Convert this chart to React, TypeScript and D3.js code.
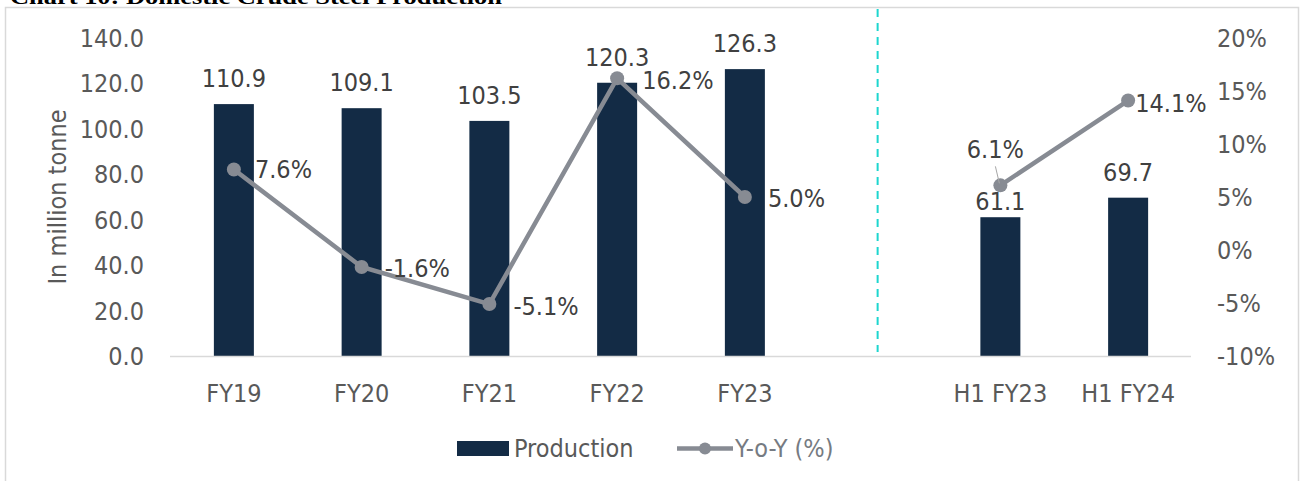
import { useEffect, useRef } from "react"
import * as d3 from "d3"

// chart data
const categories = ["FY19", "FY20", "FY21", "FY22", "FY23", "", "H1 FY23", "H1 FY24"]
const production = [110.9, 109.1, 103.5, 120.3, 126.3, null, 61.1, 69.7]
const yoy = [7.6, -1.6, -5.1, 16.2, 5.0, null, 6.1, 14.1]
const leftTicks = [0, 20, 40, 60, 80, 100, 120, 140]
const rightTicks = [-10, -5, 0, 5, 10, 15, 20]
const legendLabels = ["Production", "Y-o-Y (%)"]
const title = "Chart 10: Domestic Crude Steel Production"

// label placement (layout only)
const barLabelGap = [17, 17, 17, 17, 17, 0, 7, 17]
const yoyLabelPos = [
  { dx: 21, dy: 9, anchor: "start" },
  { dx: 23, dy: 10, anchor: "start" },
  { dx: 24, dy: 11, anchor: "start" },
  { dx: 25, dy: 11, anchor: "start" },
  { dx: 23, dy: 10, anchor: "start" },
  { dx: 0, dy: 0, anchor: "start" },
  { dx: -5, dy: -27, anchor: "middle" },
  { dx: 7, dy: 11, anchor: "start" },
]

const FONT = "'DejaVu Sans Condensed', 'DejaVu Sans', sans-serif"

export default function App() {
  const svgRef = useRef(null)

  useEffect(() => {
    if (!svgRef.current) return
    const svg = d3.select(svgRef.current)
    svg.selectAll("*").remove()

    const width = 1304
    const height = 481
    const left = 170
    const right = 1192
    const top = 38
    const bottom = 356

    svg.attr("width", width).attr("height", height)

    // outer frame
    svg.append("rect")
      .attr("x", 5.5).attr("y", 7.5)
      .attr("width", 1293).attr("height", 490)
      .attr("fill", "#fff").attr("stroke", "#d9d9d9").attr("stroke-width", 1.5)

    // title (cut off at the top)
    svg.append("text")
      .attr("x", 10).attr("y", 3.5)
      .attr("font-family", "'Liberation Serif', serif")
      .attr("font-weight", "bold")
      .attr("font-size", 22)
      .attr("textLength", 492)
      .attr("lengthAdjust", "spacingAndGlyphs")
      .attr("fill", "#000")
      .text(title)

    const x = d3.scaleBand().domain(categories.map((c, i) => i + "")).range([left, right]).padding(0)
    const cx = (i) => x(i + "") + x.bandwidth() / 2
    const yL = d3.scaleLinear().domain([0, 140]).range([bottom, top])
    const yR = d3.scaleLinear().domain([-10, 20]).range([bottom, top])

    // divider
    const blank = categories.indexOf("")
    svg.append("line")
      .attr("x1", cx(blank) + 5).attr("x2", cx(blank) + 5)
      .attr("y1", 9).attr("y2", 352)
      .attr("stroke", "#1dd6cf").attr("stroke-width", 2)
      .attr("stroke-dasharray", "8,6")

    // left axis ticks
    svg.append("g").selectAll("text").data(leftTicks).enter().append("text")
      .attr("x", 144).attr("y", (d) => yL(d))
      .attr("dy", "0.36em")
      .attr("text-anchor", "end")
      .attr("font-family", FONT).attr("font-size", 25).attr("fill", "#595959")
      .text((d) => d.toFixed(1))

    // right axis ticks
    svg.append("g").selectAll("text").data(rightTicks).enter().append("text")
      .attr("x", 1217).attr("y", (d) => yR(d))
      .attr("dy", "0.36em")
      .attr("font-family", FONT).attr("font-size", 25).attr("fill", "#595959")
      .text((d) => d + "%")

    // y title
    svg.append("text")
      .attr("transform", `translate(66,197) rotate(-90)`)
      .attr("text-anchor", "middle")
      .attr("font-family", FONT).attr("font-size", 25).attr("fill", "#595959")
      .text("In million tonne")

    // bars
    const barW = 40
    svg.append("g").selectAll("rect").data(production).enter()
      .filter((d) => d != null)
      .append("rect")
      .attr("x", (d, i) => cx(production.indexOf(d)) - barW / 2)
      .attr("y", (d) => yL(d))
      .attr("width", barW)
      .attr("height", (d) => bottom - yL(d))
      .attr("fill", "#132b45")

    // baseline
    svg.append("line")
      .attr("x1", left).attr("x2", right - 1)
      .attr("y1", bottom + 0.5).attr("y2", bottom + 0.5)
      .attr("stroke", "#d9d9d9").attr("stroke-width", 1.5)

    // x labels
    svg.append("g").selectAll("text").data(categories).enter().append("text")
      .attr("x", (d, i) => cx(i)).attr("y", 402)
      .attr("text-anchor", "middle")
      .attr("font-family", FONT).attr("font-size", 25).attr("fill", "#595959")
      .text((d) => d)

    // bar labels
    production.forEach((d, i) => {
      if (d == null) return
      svg.append("text")
        .attr("x", cx(i)).attr("y", yL(d) - barLabelGap[i])
        .attr("text-anchor", "middle")
        .attr("font-family", FONT).attr("font-size", 25).attr("fill", "#404040")
        .text(d.toFixed(1))
    })

    // yoy line
    const line = d3.line()
      .defined((d) => d[1] != null)
      .x((d) => cx(d[0]))
      .y((d) => yR(d[1]))
    svg.append("path")
      .datum(yoy.map((v, i) => [i, v]))
      .attr("fill", "none")
      .attr("stroke", "#878b93")
      .attr("stroke-width", 4.5)
      .attr("d", line)

    yoy.forEach((v, i) => {
      if (v == null) return
      svg.append("circle")
        .attr("cx", cx(i)).attr("cy", yR(v)).attr("r", 7)
        .attr("fill", "#878b93")
    })

    // leader line for 6.1%
    const li = categories.indexOf("H1 FY23")
    svg.append("line")
      .attr("x1", cx(li) - 5).attr("y1", yR(yoy[li]) - 19)
      .attr("x2", cx(li) - 1).attr("y2", yR(yoy[li]) - 2)
      .attr("stroke", "#a6a6a6").attr("stroke-width", 1)

    yoy.forEach((v, i) => {
      if (v == null) return
      const p = yoyLabelPos[i]
      svg.append("text")
        .attr("x", cx(i) + p.dx).attr("y", yR(v) + p.dy)
        .attr("text-anchor", p.anchor)
        .attr("font-family", FONT).attr("font-size", 25).attr("fill", "#404040")
        .text(v.toFixed(1) + "%")
    })

    // legend
    const lg = svg.append("g")
    lg.append("rect").attr("x", 457).attr("y", 441).attr("width", 52).attr("height", 15).attr("fill", "#132b45")
    lg.append("text").attr("x", 514).attr("y", 457)
      .attr("font-family", FONT).attr("font-size", 25).attr("fill", "#595959")
      .text(legendLabels[0])
    lg.append("line").attr("x1", 677).attr("x2", 733).attr("y1", 448.5).attr("y2", 448.5)
      .attr("stroke", "#878b93").attr("stroke-width", 4.5)
    lg.append("circle").attr("cx", 705).attr("cy", 448.5).attr("r", 6).attr("fill", "#878b93")
    lg.append("text").attr("x", 735).attr("y", 457)
      .attr("font-family", FONT).attr("font-size", 25).attr("fill", "#767b82")
      .text(legendLabels[1])
  }, [])

  return (
    <svg ref={svgRef} style={{ position: "absolute", left: 0, top: 0, display: "block" }}></svg>
  )
}
